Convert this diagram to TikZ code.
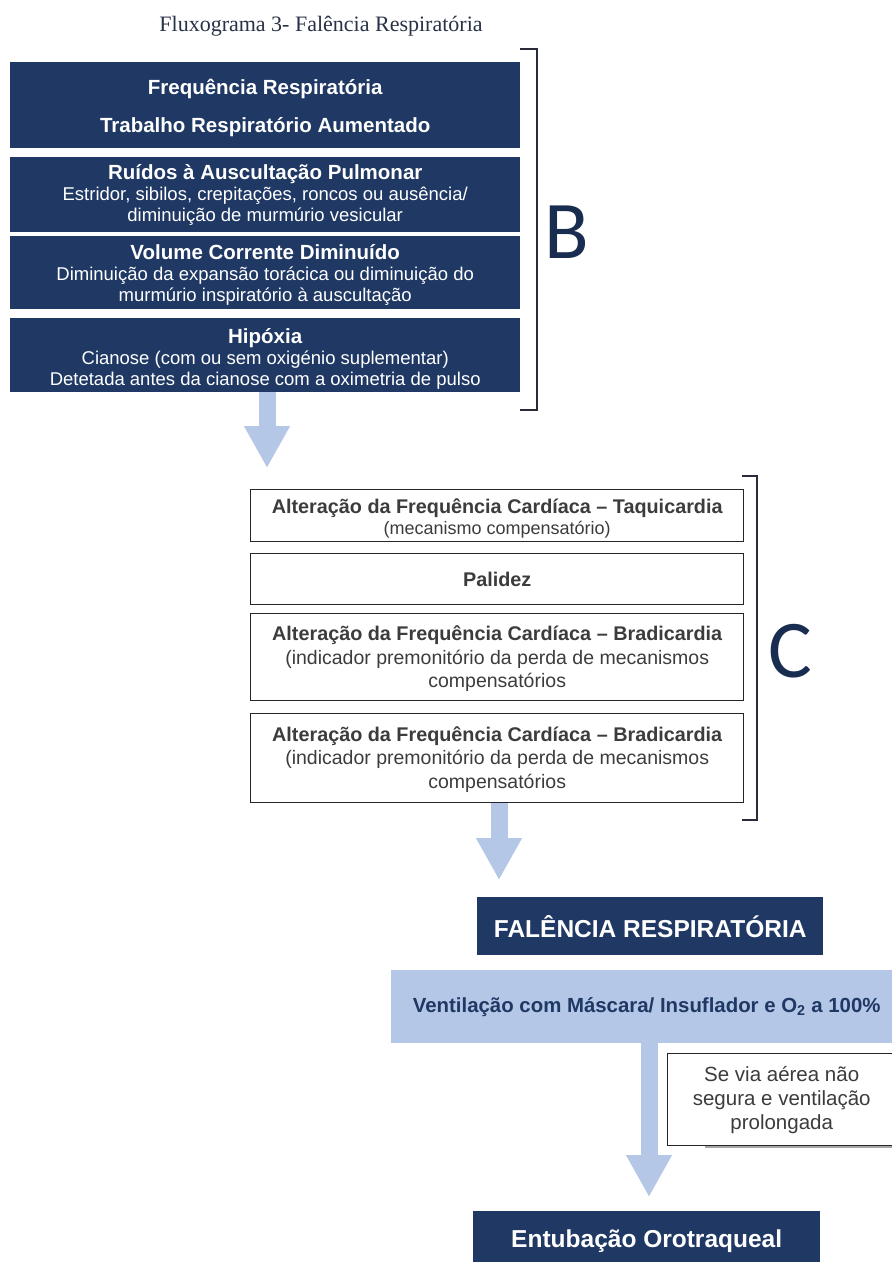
\documentclass[tikz,border=0pt]{standalone}
\usepackage{fontspec}
\setmainfont{Liberation Sans}
\newfontfamily\titlefont{Liberation Serif}
\newfontfamily\letterfont{Carlito}
\usetikzlibrary{arrows.meta}
\definecolor{navy}{RGB}{31,56,100}
\definecolor{lblue}{RGB}{180,199,231}
\definecolor{brk}{RGB}{40,44,56}
\definecolor{ctext}{RGB}{30,30,30}
\definecolor{gtext}{RGB}{60,60,60}
\definecolor{ttext}{RGB}{40,50,70}
\newcommand\hdB{\bfseries\fontsize{20.5}{21}\selectfont}
\newcommand\hdC{\bfseries\fontsize{19.8}{23}\selectfont}
\begin{document}
\begin{tikzpicture}[x=1pt,y=-1pt,
  darkbox/.style={fill=navy,text=white,anchor=north west,inner sep=0pt,align=center,
    font=\fontsize{18.5}{21}\selectfont},
  whitebox/.style={draw=black!85,line width=1.4pt,fill=white,text=gtext,anchor=north west,
    inner sep=0pt,align=center,font=\fontsize{19.5}{23.5}\selectfont},
  bracket/.style={draw=brk,line width=2.6pt},
  bigarrow/.style={draw=lblue,line width=17pt,-{Triangle[width=43pt,length=42pt]}},
  letter/.style={text=navy!80!black,font=\letterfont\fontsize{82}{82}\selectfont,inner sep=0pt}
]
\clip (0,0) rectangle (892,1262);
\fill[white] (0,0) rectangle (892,1262);

% title
\node[font=\titlefont\fontsize{22}{26}\selectfont,text=ttext] (title) at (321,26) {Fluxograma 3- Falência Respiratória};

% B section
\node[darkbox,minimum width=510pt,minimum height=86pt] (b1) at (10,62)
  {\rule{0pt}{21pt}\hdB Frequência Respiratória\\[17pt]\hdB Trabalho Respiratório Aumentado};
\node[darkbox,minimum width=510pt,minimum height=75pt] (b2) at (10,157)
  {{\hdB Ruídos à Auscultação Pulmonar}\\Estridor, sibilos, crepitações, roncos ou ausência/\\diminuição de murmúrio vesicular};
\node[darkbox,minimum width=510pt,minimum height=73pt] (b3) at (10,236)
  {\rule{0pt}{19pt}{\hdB Volume Corrente Diminuído}\\Diminuição da expansão torácica ou diminuição do\\murmúrio inspiratório à auscultação};
\node[darkbox,minimum width=510pt,minimum height=74pt] (b4) at (10,318)
  {\rule{0pt}{23pt}{\hdB Hipóxia}\\Cianose (com ou sem oxigénio suplementar)\\Detetada antes da cianose com a oximetria de pulso};
\draw[bracket] (520,49) -- (537,49) -- (537,410) -- (520,410);
\node[letter] (B) at (567,232) {B};

% arrow 1
\coordinate (a1e) at (267,468);
\draw[bigarrow] (b4.south -| a1e) -- (a1e);

% C section
\node[whitebox,minimum width=493pt,minimum height=52pt] (c1) at (250,489)
  {\rule{0pt}{20pt}{\hdC Alteração da Frequência Cardíaca – Taquicardia}\\[-3pt]{\fontsize{18}{21}\selectfont(mecanismo compensatório)}};
\node[whitebox,minimum width=493pt,minimum height=51pt] (c2) at (250,553)
  {\hdC Palidez};
\node[whitebox,minimum width=493pt,minimum height=87pt] (c3) at (250,613)
  {\rule{0pt}{18pt}{\hdC Alteração da Frequência Cardíaca – Bradicardia}\\(indicador premonitório da perda de mecanismos\\compensatórios};
\node[whitebox,minimum width=493pt,minimum height=89pt] (c4) at (250,713)
  {\rule{0pt}{17pt}{\hdC Alteração da Frequência Cardíaca – Bradicardia}\\(indicador premonitório da perda de mecanismos\\compensatórios};
\draw[bracket] (742,476) -- (757,476) -- (757,820) -- (742,820);
\node[letter] (C) at (790,651) {C};

% arrow 2
\coordinate (a2e) at (499,880);
\draw[bigarrow] (c4.south -| a2e) -- (a2e);

% bottom
\node[darkbox,minimum width=346pt,minimum height=58pt,font=\bfseries\fontsize{24.5}{28}\selectfont] (fal) at (477,897)
  {FALÊNCIA RESPIRATÓRIA};
\node[fill=lblue,text=navy,anchor=north west,inner sep=0pt,minimum width=505pt,minimum height=73pt,
  font=\bfseries\fontsize{20.4}{24}\selectfont] (vent) at (391,970)
  {\hspace*{6pt}Ventilação com Máscara/ Insuflador e O\textsubscript{2} a 100\%};
\draw[gray!70,line width=2pt] (705,1147) -- (892,1147);
\node[whitebox,minimum width=228pt,minimum height=92pt,font=\fontsize{20.5}{24}\selectfont,text=gtext] (se) at (667,1053)
  {Se via aérea não\\segura e ventilação\\prolongada};

% arrow 3
\coordinate (a3e) at (649,1197);
\draw[bigarrow] (vent.south -| a3e) -- (a3e);

\node[darkbox,minimum width=347pt,minimum height=60pt,font=\bfseries\fontsize{24.5}{28}\selectfont] (ent) at (473,1211)
  {Entubação Orotraqueal};
\end{tikzpicture}
\end{document}
